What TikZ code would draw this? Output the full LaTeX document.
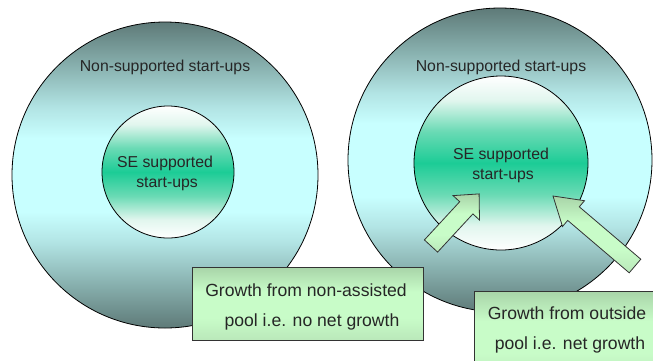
\documentclass[tikz,border=0pt]{standalone}
\usepackage{fontspec}
\setmainfont{Liberation Sans}
\definecolor{outerdark}{RGB}{94,122,120}
\definecolor{outermid}{RGB}{135,175,173}
\definecolor{outerpale}{RGB}{178,228,228}
\definecolor{outerlight}{RGB}{200,255,255}
\definecolor{innergreen}{RGB}{28,204,150}
\definecolor{innermid}{RGB}{105,218,180}
\definecolor{innerpale}{RGB}{225,246,238}
\definecolor{boxdark}{RGB}{168,212,168}
\definecolor{boxlight}{RGB}{200,252,200}
\definecolor{boxlow}{RGB}{186,232,186}
\pgfdeclareverticalshading{ringshade}{100bp}{color(0bp)=(outerdark); color(25bp)=(outerdark); color(32bp)=(outermid); color(39bp)=(outerpale); color(44bp)=(outerlight); color(56bp)=(outerlight); color(61bp)=(outerpale); color(68bp)=(outermid); color(75bp)=(outerdark); color(100bp)=(outerdark)}
\pgfdeclareverticalshading{discshade}{100bp}{color(0bp)=(white); color(25bp)=(white); color(32bp)=(innerpale); color(41bp)=(innermid); color(50bp)=(innergreen); color(59bp)=(innermid); color(68bp)=(innerpale); color(75bp)=(white); color(100bp)=(white)}
\pgfdeclareverticalshading{boxshade}{100bp}{color(0bp)=(boxlow); color(25bp)=(boxlow); color(40bp)=(boxlight); color(58bp)=(boxlight); color(75bp)=(boxdark); color(100bp)=(boxdark)}
\tikzset{
  outerring/.style={draw=black, line width=0.8pt, shading=ringshade},
  innerdisc/.style={draw=black, line width=0.8pt, shading=discshade},
  growbox/.style={draw=black!80, line width=0.9pt, shading=boxshade},
  blockarrow/.style={draw=black!80, line width=0.8pt, shading=boxshade},
  circtext/.style={font=\fontsize{15.8}{19}\selectfont, text=black!85, inner sep=0pt},
  boxtext/.style={font=\fontsize{17.6}{21}\selectfont, text=black!85, inner sep=0pt},
}
\begin{document}
\begin{tikzpicture}[x=1pt,y=-1pt]
\useasboundingbox (0,0) rectangle (653,360);
\clip (0,0) rectangle (653,360);
% left diagram
\path[outerring] (165,175) circle[radius=153];
\path[innerdisc] (168,172) circle[radius=66];
\node[circtext] (lnon) at (165,67) {Non-supported start-ups};
\node[circtext] (lse1) at (165,163) {SE supported};
\node[circtext] (lse2) at (167,184) {start-ups};
% right diagram
\path[outerring] (500,160) circle[radius=152];
\path[innerdisc] (501,163) circle[radius=87];
\node[circtext] (rnon) at (501,67) {Non-supported start-ups};
\node[circtext] (rse1) at (501,155) {SE supported};
\node[circtext] (rse2) at (503,176) {start-ups};
% arrows
\path[blockarrow] (437.6,252.1) -- (472.9,213.9) -- (479.5,220.0) -- (479.1,193.9) -- (453.1,195.6) -- (459.7,201.7) -- (424.4,239.9) -- cycle;
\path[blockarrow] (640.8,259.2) -- (579.3,206.8) -- (584.5,200.7) -- (553,196) -- (562.5,226.5) -- (567.7,220.4) -- (629.2,272.8) -- cycle;
% boxes
\path[growbox] (192,267) rectangle (423,340);
\node[boxtext] (lb1) at (306,290) {Growth from non-assisted};
\node[boxtext] (lb2) at (312,322) {pool i.e. no net growth};
\path[growbox] (474,291) rectangle (670,380);
\node[boxtext] (rb1) at (567,313) {Growth from outside};
\node[boxtext] (rb2) at (570,345) {pool i.e. net growth};
\end{tikzpicture}
\end{document}
